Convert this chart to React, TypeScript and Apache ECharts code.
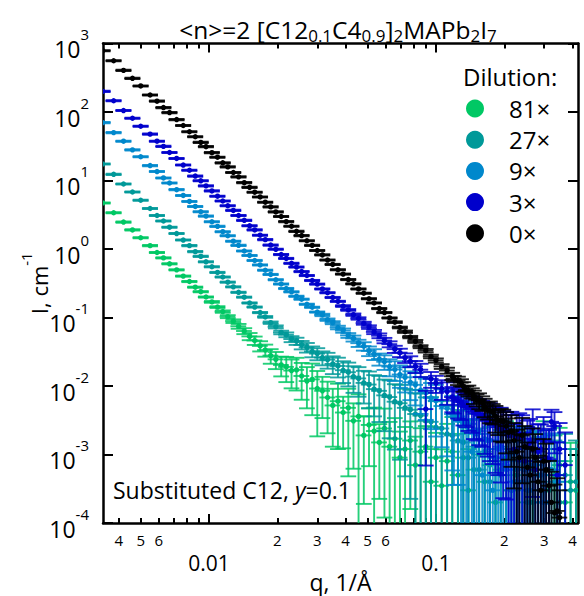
import React, { useEffect, useRef } from "react";
import * as echarts from "echarts";

// q grid (1/Å), shared by every dilution
const Q = [0.0034,0.0038,0.0042,0.0046,0.0050,0.0055,0.0059,0.0063,0.0067,0.0072,
0.0077,0.0082,0.0087,0.0092,0.0097,0.0103,0.0109,0.0115,0.0121,0.0128,
0.0135,0.0143,0.0151,0.0159,0.0168,0.0177,0.0187,0.0197,0.0208,0.0219,
0.0231,0.0243,0.0256,0.0270,0.0285,0.0300,0.0316,0.0333,0.0351,0.0370,
0.0390,0.0411,0.0433,0.0456,0.0481,0.0507,0.0534,0.0563,0.0593,0.0625,
0.0659,0.0694,0.0731,0.0771,0.0812,0.0856,0.0902,0.0951,0.100,0.106,
0.112,0.118,0.125,0.132,0.139,0.147,0.155,0.164,0.173,0.183,
0.193,0.204,0.215,0.227,0.240,0.253,0.267,0.282,0.298,0.315,
0.333,0.351,0.371,0.392,0.414];
// second (high-q) configuration grid
const Q_HI = [0.120,0.129,0.136,0.144,0.151,0.160,0.169,0.178,0.188,0.198,
0.209,0.221,0.233,0.246,0.260,0.274,0.290,0.306,0.323,0.342];
// q resolution (dq/q)
const DQ_REL = 0.08;

// 0x
const I_0 = [785,560,405,310,240,177,144,116,98,77.5,
63.5,51.5,43.5,36.0,31.2,25.5,21.9,18.1,15.8,13.1,
11.3,9.30,7.95,6.75,5.75,4.82,4.12,3.48,2.98,2.51,
2.15,1.81,1.57,1.32,1.13,0.950,0.820,0.690,0.595,0.498,
0.430,0.358,0.310,0.261,0.226,0.188,0.163,0.135,0.118,0.0985,
0.0855,0.0715,0.0620,0.0518,0.0448,0.0375,0.0328,0.0270,0.0236,0.0193,
0.0168,0.0139,0.0120,0.0098,0.0086,0.0070,0.0062,0.0050,0.0044,0.0036,
0.0031,0.0026,0.0022,0.0011,0.0019,0.00065,0.0012,0.00040,0.00080,0.00035,
0.00014,0.00012];
const E_0 = [0.02,0.02,0.02,0.02,0.02,0.02,0.02,0.02,0.02,0.02,
0.02,0.02,0.02,0.02,0.02,0.02,0.02,0.02,0.02,0.02,
0.02,0.02,0.02,0.02,0.02,0.02,0.02,0.02,0.02,0.02,
0.02,0.02,0.02,0.02,0.02,0.02,0.02,0.02,0.02,0.02,
0.02,0.02,0.02,0.02,0.02,0.02,0.02,0.02,0.02,0.02,
0.03,0.03,0.04,0.04,0.05,0.05,0.06,0.06,0.07,0.08,
0.10,0.12,0.14,0.16,0.18,0.22,0.26,0.30,0.35,0.42,
0.5,0.6,0.7,1.1,0.8,1.3,1.0,1.4,1.1,1.3,
1.6,1.5];
const I_0_HI = [0.0128,0.0112,0.0087,0.0079,0.0063,0.0057,0.0045,0.0041,0.0032,0.0030,
0.0021,0.0016,0.00090,0.0013,0.00050,0.00090,0.00030,0.00060,0.00020,0.00015];
const E_0_HI = [0.10,0.12,0.14,0.17,0.20,0.24,0.28,0.33,0.40,0.50,
0.60,0.80,1.2,1.0,1.5,1.2,1.6,1.4,1.8,2.0];

// 3x
const I_3 = [200,146,105,81,62,47.5,37.5,31.5,25.6,21.0,
16.8,14.1,11.6,9.9,8.35,7.05,5.90,5.02,4.28,3.66,
3.08,2.62,2.18,1.90,1.59,1.37,1.14,0.990,0.830,0.728,
0.618,0.545,0.468,0.410,0.347,0.307,0.261,0.230,0.196,0.172,
0.147,0.129,0.110,0.0968,0.0825,0.0725,0.0615,0.0542,0.0462,0.0408,
0.0345,0.0307,0.0258,0.0230,0.0193,0.0173,0.0046,0.0127,0.0110,0.0092,
0.0083,0.0069,0.0061,0.0053,0.0049,0.0042,0.0039,0.0034,0.0032,0.0027,
0.0026,0.0022,0.0021,0.0018,0.0017,0.0013,0.0024,0.0011,0.0016,0.00085,
0.0026,0.0012,0.00070];
const E_3 = [0.02,0.02,0.02,0.02,0.02,0.02,0.02,0.02,0.02,0.02,
0.02,0.02,0.02,0.02,0.02,0.02,0.02,0.02,0.02,0.02,
0.02,0.02,0.02,0.02,0.02,0.02,0.02,0.02,0.02,0.02,
0.02,0.02,0.02,0.02,0.02,0.02,0.02,0.02,0.02,0.02,
0.03,0.03,0.04,0.04,0.05,0.06,0.07,0.08,0.09,0.10,
0.12,0.14,0.16,0.18,0.20,0.22,0.85,0.26,0.28,0.32,
0.36,0.40,0.45,0.50,0.55,0.60,0.65,0.70,0.75,0.80,
0.85,0.90,1.0,1.1,1.2,1.4,0.9,1.5,1.2,1.8,
0.6,1.4,2.0];
const I_3_HI = [0.0066,0.0058,0.0050,0.0046,0.0040,0.0037,0.0031,0.0029,0.0025,0.0023,
0.0019,0.0012,0.0020,0.00080,0.0015,0.00060,0.0012,0.00090,0.0030,0.00050];
const E_3_HI = [0.40,0.45,0.50,0.55,0.60,0.65,0.70,0.75,0.80,0.90,
1.0,1.3,1.0,1.6,1.2,1.8,1.3,1.5,0.5,2.0];

// 9x
const I_9 = [70,50,37.5,28.0,22.2,16.5,13.5,10.9,9.2,7.35,
6.05,4.95,4.18,3.50,3.02,2.50,2.14,1.79,1.56,1.30,
1.13,0.935,0.805,0.680,0.585,0.490,0.425,0.356,0.308,0.265,
0.237,0.204,0.185,0.156,0.141,0.120,0.109,0.0930,0.0840,0.0715,
0.0645,0.0548,0.0495,0.0422,0.0382,0.0325,0.0292,0.0248,0.0226,0.0192,
0.0174,0.0147,0.0134,0.0113,0.0104,0.0087,0.0080,0.0067,0.0061,0.0051,
0.0047,0.0039,0.0036,0.0030,0.0028,0.0023,0.0022,0.0017,0.0016,0.00090,
0.0013,0.00060,0.0011,0.00040,0.00090,0.00030,0.00070,0.00050,0.00020,0.00060];
const E_9 = [0.02,0.02,0.02,0.02,0.02,0.02,0.02,0.02,0.02,0.02,
0.02,0.02,0.02,0.02,0.02,0.02,0.02,0.02,0.02,0.02,
0.02,0.02,0.02,0.02,0.02,0.02,0.02,0.02,0.02,0.02,
0.02,0.02,0.02,0.02,0.02,0.02,0.04,0.04,0.05,0.06,
0.07,0.08,0.10,0.12,0.14,0.16,0.18,0.20,0.24,0.28,
0.32,0.36,0.40,0.45,0.50,0.55,0.60,0.65,0.70,0.75,
0.8,0.85,0.9,1.0,1.0,1.1,1.2,1.3,1.4,2.0,
1.5,2.4,1.6,2.8,1.8,3.0,2.0,2.5,3.0,2.2];
const I_9_HI = [0.0036,0.0031,0.0026,0.0011,0.0020,0.00050,0.0016,0.00030,0.0012,0.00070,
0.0010,0.00040,0.00080,0.00060,0.00030,0.00070,0.00050,0.00020,0.00060,0.00040];
const E_9_HI = [0.9,1.0,1.1,2.0,1.2,3.0,1.4,3.0,1.6,2.4,
1.8,3.0,2.0,2.5,3.0,2.2,2.6,3.0,2.4,2.8];

// 27x
const I_27 = [17.4,12.3,8.9,6.8,5.15,3.90,3.08,2.56,2.08,1.68,
1.35,1.12,0.915,0.780,0.650,0.550,0.455,0.390,0.328,0.280,
0.233,0.198,0.163,0.142,0.118,0.102,0.0840,0.0730,0.0605,0.0560,
0.0485,0.0452,0.0398,0.0366,0.0320,0.0297,0.0260,0.0242,0.0210,0.0196,
0.0170,0.0159,0.0137,0.0129,0.0111,0.0105,0.0090,0.0085,0.0073,0.0069,
0.0059,0.0056,0.0048,0.0045,0.0039,0.0037,0.0031,0.0030,0.0025,0.0024,
0.0020,0.0019,0.0016,0.0015,0.00090,0.0013,0.00060,0.0011,0.00040,0.00090,
0.00050,0.00080,0.00030,0.00060,0.00040,0.00070,0.00020,0.00050,0.00030,0.00060,
0.00040,0.00020,0.00050,0.00030,0.00040];
const E_27 = [0.02,0.02,0.02,0.02,0.02,0.02,0.02,0.02,0.02,0.02,
0.02,0.02,0.02,0.02,0.02,0.02,0.02,0.02,0.02,0.02,
0.02,0.02,0.02,0.02,0.02,0.03,0.04,0.05,0.06,0.08,
0.10,0.12,0.14,0.16,0.18,0.20,0.23,0.26,0.29,0.32,
0.35,0.38,0.42,0.46,0.50,0.55,0.60,0.65,0.70,0.75,
0.8,0.85,0.9,0.95,1.0,1.1,1.2,1.3,1.4,1.5,
1.6,1.7,1.8,1.9,2.6,2.0,3.0,2.2,3.0,2.4,
3.0,2.5,3.0,2.8,3.0,2.6,3.0,3.0,3.0,2.8,
3.0,3.0,3.0,3.0,3.0];

// 81x
const I_81 = [4.70,3.38,2.47,1.90,1.46,1.12,0.890,0.742,0.608,0.496,
0.402,0.335,0.277,0.238,0.199,0.169,0.142,0.122,0.103,0.0885,
0.0745,0.0635,0.0530,0.0462,0.0385,0.0335,0.0278,0.0245,0.0203,0.0190,
0.0168,0.0172,0.0140,0.0118,0.0125,0.0092,0.0085,0.0068,0.0052,0.0060,
0.0041,0.0048,0.0031,0.0036,0.0019,0.0027,0.0022,0.0015,0.0024,0.0013,
0.0017,0.00090,0.0012,0.0016,0.00070,0.0011,0.0013,0.00040,0.00090,0.00035,
0.00080,0.0011,0.00050,0.00090,0.00030,0.00060,0.0010,0.00040,0.00070,0.00020,
0.00060,0.00090,0.00030,0.00050,0.00080,0.00020,0.00060,0.00040,0.00090,0.00030,
0.00050,0.00070,0.00020,0.00040,0.00030];
const E_81 = [0.02,0.02,0.02,0.02,0.02,0.02,0.02,0.02,0.02,0.02,
0.02,0.02,0.02,0.02,0.02,0.03,0.03,0.04,0.05,0.06,
0.08,0.10,0.12,0.14,0.17,0.20,0.24,0.28,0.32,0.40,
0.45,0.50,0.55,0.60,0.70,0.80,0.60,0.70,0.75,0.80,
0.70,0.90,0.80,1.1,0.90,0.75,1.2,0.85,0.95,1.3,
1.0,1.4,1.1,0.90,1.6,1.2,1.0,2.0,1.3,2.4,
2.5,2.2,3.0,2.5,3.0,2.8,2.2,3.0,2.6,3.0,
2.8,2.4,3.0,2.8,2.2,3.0,2.6,3.0,2.4,3.0,
2.8,2.5,3.0,2.7,3.0];

const NAMES = ["81×", "27×", "9×", "3×", "0×"];
const COLORS = ["#00c864", "#009999", "#0088cc", "#0000cc", "#000000"];
const INTENSITIES = [I_81, I_27, I_9, I_3, I_0];
const ERRORS = [E_81, E_27, E_9, E_3, E_0];
const INTENSITIES_HI = [[], [], I_9_HI, I_3_HI, I_0_HI];
const ERRORS_HI = [[], [], E_9_HI, E_3_HI, E_0_HI];

// axes
const Q_MIN = 0.00341;
const Q_MAX = 0.4227;
const Y_MIN_EXP = -4;
const Y_MAX_EXP = 3;
const MAJOR_Q = [0.01, 0.1];
const MAJOR_TEXT = ["0.01", "0.1"];
const MINOR_Q = [0.004,0.005,0.006,0.007,0.008,0.009,0.02,0.03,0.04,0.05,0.06,0.07,0.08,0.09,0.2,0.3,0.4];
const MINOR_LABEL_Q = [0.004,0.005,0.006,0.02,0.03,0.04,0.05,0.06,0.2,0.3,0.4];
const MINOR_LABEL_TEXT = ["4","5","6","2","3","4","5","6","2","3","4"];

const FONT = '"Open Sans", "Noto Sans", sans-serif';
const lg = Math.log10;

const nearestText = (v: number, qs: number[], texts: string[]) => {
  let best = 0;
  let bd = Infinity;
  qs.forEach((q, i) => {
    const d = Math.abs(lg(q) - v);
    if (d < bd) { bd = d; best = i; }
  });
  return texts[best];
};

const renderErr = (color: string) => (params: any, api: any) => {
  const x = api.value(0);
  const y = api.value(1);
  const p = api.coord([x, y]);
  const xl = api.coord([api.value(2), y]);
  const xh = api.coord([api.value(3), y]);
  const yl = api.coord([x, api.value(4)]);
  const yh = api.coord([x, api.value(5)]);
  const cw = (xh[0] - xl[0]) / 2;
  const ls = { stroke: color, lineWidth: 1.9, opacity: 0.85 };
  return {
    type: "group",
    children: [
      { type: "line", shape: { x1: xl[0], y1: p[1], x2: xh[0], y2: p[1] }, style: ls },
      { type: "line", shape: { x1: p[0], y1: yl[1], x2: p[0], y2: yh[1] }, style: ls },
      { type: "line", shape: { x1: p[0] - cw, y1: yl[1], x2: p[0] + cw, y2: yl[1] }, style: ls },
      { type: "line", shape: { x1: p[0] - cw, y1: yh[1], x2: p[0] + cw, y2: yh[1] }, style: ls },
      { type: "circle", shape: { cx: p[0], cy: p[1], r: 2.7 }, style: { fill: color } },
    ],
  };
};

const buildData = (qs: number[], I: number[], E: number[]) =>
  I.map((v, i) => {
    const q = qs[i];
    const lo = v * (1 - E[i]);
    return [lg(q), lg(v), lg(q * (1 - DQ_REL)), lg(q * (1 + DQ_REL)), lo > 0 ? lg(lo) : -9, lg(v * (1 + E[i]))];
  });

const xBase = {
  type: "value",
  min: lg(Q_MIN),
  max: lg(Q_MAX),
  splitLine: { show: false },
};

export default function App() {
  const ref = useRef<HTMLDivElement>(null);
  useEffect(() => {
    if (!ref.current) return;
    const chart = echarts.init(ref.current, undefined, { renderer: "svg" });
    const axisLine = { show: true, onZero: false, lineStyle: { color: "#000", width: 2.5 } };
    const noLine = { show: false, onZero: false };
    const majorTick = { show: true, inside: true, length: 9, lineStyle: { color: "#000", width: 2 }, customValues: MAJOR_Q.map(lg) };
    const minorTick = { show: true, inside: true, length: 5, lineStyle: { color: "#000", width: 2 }, customValues: MINOR_Q.map(lg) };
    const yTick = { show: true, inside: true, length: 10, lineStyle: { color: "#000", width: 2 } };
    const option: any = {
      animation: false,
      backgroundColor: "#fff",
      color: COLORS,
      grid: { left: 103, right: 6, top: 43.5, bottom: 73, containLabel: false, outerBoundsMode: "none" },
      xAxis: [
        {
          ...xBase,
          position: "bottom",
          axisLine,
          axisTick: majorTick,
          axisLabel: {
            customValues: MAJOR_Q.map(lg),
            formatter: (v: number) => nearestText(v, MAJOR_Q, MAJOR_TEXT),
            margin: 29,
            fontSize: 21,
            fontFamily: FONT,
            color: "#000",
          },
          name: "q, 1/Å",
          nameLocation: "middle",
          nameGap: 47,
          nameMoveOverlap: false,
          nameTextStyle: { fontSize: 23, fontFamily: FONT, color: "#000" },
        },
        {
          ...xBase,
          position: "bottom",
          axisLine: noLine,
          axisTick: minorTick,
          axisLabel: {
            customValues: MINOR_LABEL_Q.map(lg),
            formatter: (v: number) => nearestText(v, MINOR_LABEL_Q, MINOR_LABEL_TEXT),
            margin: 9,
            fontSize: 15,
            fontFamily: FONT,
            color: "#000",
          },
        },
        { ...xBase, position: "top", axisLine, axisTick: majorTick, axisLabel: { show: false } },
        { ...xBase, position: "top", axisLine: noLine, axisTick: minorTick, axisLabel: { show: false } },
      ],
      yAxis: [
        {
          type: "value",
          min: Y_MIN_EXP,
          max: Y_MAX_EXP,
          interval: 1,
          position: "left",
          splitLine: { show: false },
          axisLine,
          axisTick: yTick,
          axisLabel: {
            margin: 14,
            formatter: (v: number) => `{b|10}{e|${v}}`,
            rich: {
              b: { fontSize: 23, fontFamily: FONT, color: "#000", lineHeight: 34, verticalAlign: "bottom" },
              e: { fontSize: 15, fontFamily: FONT, color: "#000", verticalAlign: "top" },
            },
          },
          name: "{b|I, cm}{e|-1}",
          nameLocation: "middle",
          nameGap: 53,
          nameRotate: 90,
          nameMoveOverlap: false,
          nameTextStyle: {
            rich: {
              b: { fontSize: 22, fontFamily: FONT, color: "#000", lineHeight: 32, verticalAlign: "bottom" },
              e: { fontSize: 15, fontFamily: FONT, color: "#000", verticalAlign: "top" },
            },
          },
        },
        {
          type: "value",
          min: Y_MIN_EXP,
          max: Y_MAX_EXP,
          interval: 1,
          position: "right",
          splitLine: { show: false },
          axisLine,
          axisTick: yTick,
          axisLabel: { show: false },
        },
      ],
      legend: {
        orient: "vertical",
        left: 466,
        top: 96.5,
        padding: 0,
        itemWidth: 58,
        itemHeight: 18,
        itemGap: 7.2,
        icon: "circle",
        selectedMode: false,
        data: NAMES,
        textStyle: { fontSize: 24, fontFamily: FONT, color: "#000", lineHeight: 18 },
      },
      graphic: [
        {
          type: "text",
          x: 338,
          y: 29,
          style: {
            text: "<n>=2 [C12{s|0.1}C4{s|0.9}]{s|2}MAPb{s|2}I{s|7}",
            fontSize: 24.5,
            fontFamily: FONT,
            fill: "#000",
            lineHeight: 30,
            align: "center",
            verticalAlign: "middle",
            rich: { s: { fontSize: 17, fontFamily: FONT, fill: "#000", verticalAlign: "bottom" } },
          },
        },
        {
          type: "text",
          x: 463,
          y: 76.5,
          style: { text: "Dilution:", fontSize: 24, fontFamily: FONT, fill: "#000", align: "left", verticalAlign: "middle" },
        },
        {
          type: "text",
          x: 113,
          y: 490,
          style: {
            text: "Substituted C12, {i|y}=0.1",
            fontSize: 23,
            fontFamily: FONT,
            fill: "#000",
            align: "left",
            verticalAlign: "middle",
            rich: { i: { fontSize: 23, fontFamily: FONT, fontStyle: "italic", fill: "#000" } },
          },
        },
      ],
      series: NAMES.map((name, k) => ({
        type: "custom",
        name,
        xAxisIndex: 0,
        yAxisIndex: 0,
        clip: true,
        itemStyle: { color: COLORS[k] },
        encode: { x: [0, 2, 3], y: [1, 4, 5] },
        renderItem: renderErr(COLORS[k]),
        data: buildData(Q, INTENSITIES[k], ERRORS[k]).concat(buildData(Q_HI, INTENSITIES_HI[k], ERRORS_HI[k])),
        z: 2 + k,
      })),
    };
    chart.setOption(option);
    return () => chart.dispose();
  }, []);
  return <div ref={ref} style={{ position: "absolute", left: 0, top: 0, width: 584, height: 596 }} />;
}
